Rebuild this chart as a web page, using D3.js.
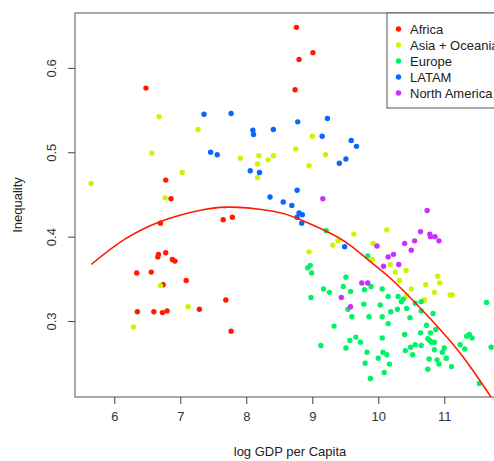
<!DOCTYPE html>
<html>
<head>
<meta charset="utf-8">
<script src="https://cdn.jsdelivr.net/npm/d3@7"></script>
<style>
  body { margin: 0; background: #fff; }
  svg { display: block; font-family: "Liberation Sans", Arial, sans-serif; }
</style>
</head>
<body>
<svg id="chart" width="494" height="461"></svg>
<script>
const regions = ["Africa", "Asia + Oceania", "Europe", "LATAM", "North America"];
const regionColors = ["#ff1a00", "#ccf500", "#00f266", "#0a66ff", "#cc2eff"];

// [log GDP per capita, inequality]
const africa = [[6.48,0.576],[6.78,0.467],[6.86,0.445],[6.70,0.416],[7.65,0.420],[7.79,0.423],[6.67,0.379],[6.66,0.376],
  [6.78,0.381],[6.88,0.373],[6.92,0.371],[6.34,0.357],[6.56,0.358],[7.09,0.348],[6.74,0.343],[7.69,0.325],[7.29,0.314],
  [6.35,0.311],[6.60,0.311],[6.73,0.310],[6.80,0.312],[7.77,0.288],[8.76,0.648],[9.01,0.618],[8.80,0.610],[8.74,0.574]];

const asiaOceania = [[5.65,0.463],[6.68,0.542],[7.27,0.527],[6.57,0.499],[7.91,0.493],[7.03,0.476],[6.77,0.446],[6.70,0.342],
  [7.12,0.317],[6.29,0.293],[9.00,0.519],[8.75,0.504],[9.20,0.497],[8.19,0.496],[8.17,0.486],[8.33,0.491],[8.41,0.496],
  [8.95,0.484],[8.17,0.470],[9.63,0.403],[9.39,0.395],[9.31,0.390],[8.95,0.382],[10.13,0.408],[9.92,0.392],[9.91,0.373],
  [10.18,0.367],[10.42,0.360],[10.26,0.358],[10.32,0.348],[10.90,0.353],[10.93,0.345],[10.72,0.343],[10.50,0.338],
  [10.43,0.330],[10.70,0.325],[10.85,0.334],[11.09,0.331],[11.12,0.331]];

const europe = [[9.21,0.407],[9.84,0.377],[8.97,0.366],[8.93,0.363],[8.99,0.357],[9.51,0.352],[9.17,0.338],[9.47,0.341],
  [9.89,0.341],[10.06,0.338],[8.98,0.328],[9.26,0.334],[9.58,0.335],[9.79,0.337],[9.54,0.314],[9.78,0.320],[10.03,0.319],
  [10.15,0.329],[10.30,0.329],[10.38,0.326],[10.35,0.323],[9.60,0.305],[9.86,0.305],[10.06,0.305],[10.19,0.311],[10.29,0.314],
  [10.15,0.297],[9.33,0.294],[9.57,0.277],[9.66,0.281],[9.73,0.275],[9.13,0.271],[9.51,0.268],[10.06,0.280],[9.83,0.263],
  [10.07,0.263],[10.13,0.260],[10.00,0.256],[9.80,0.250],[10.17,0.249],[10.09,0.239],[9.88,0.232],[10.56,0.321],[10.65,0.323],
  [10.65,0.312],[10.43,0.315],[10.48,0.304],[10.83,0.309],[10.73,0.295],[10.40,0.284],[10.64,0.286],[10.79,0.286],[10.78,0.277],
  [10.81,0.275],[10.85,0.275],[10.87,0.290],[10.75,0.279],[10.56,0.272],[10.49,0.269],[10.65,0.271],[10.41,0.265],[10.52,0.260],
  [10.85,0.266],[10.97,0.263],[11.00,0.268],[10.77,0.255],[10.89,0.254],[11.03,0.256],[10.92,0.249],[11.11,0.246],[10.75,0.243],
  [11.24,0.272],[11.31,0.267],[11.34,0.282],[11.42,0.280],[11.38,0.284],[11.64,0.322],[11.71,0.269],[11.53,0.226]];

const latam = [[7.36,0.545],[7.77,0.546],[7.46,0.500],[7.56,0.497],[9.23,0.540],[8.78,0.536],[8.10,0.526],[8.11,0.521],
  [8.41,0.527],[9.15,0.519],[9.59,0.514],[9.67,0.507],[9.51,0.492],[9.41,0.487],[8.06,0.478],[8.20,0.476],[8.77,0.455],
  [8.36,0.447],[8.56,0.441],[8.69,0.437],[8.80,0.428],[8.85,0.426],[8.77,0.423],[8.84,0.416],[9.49,0.388]];

const northAmerica = [[9.16,0.445],[10.74,0.431],[10.64,0.406],[10.78,0.403],[10.79,0.400],[10.86,0.400],[10.92,0.395],
  [10.55,0.395],[10.40,0.392],[10.50,0.384],[9.98,0.389],[10.23,0.379],[10.15,0.376],[10.31,0.367],[10.08,0.365],
  [9.75,0.345],[9.84,0.345],[9.44,0.328],[9.58,0.317]];

// fitted curve
const fitX = [5.65, 6.16, 6.70, 7.17, 7.73, 8.41, 8.76, 9.22, 9.57, 9.87, 10.25, 10.76, 11.26, 11.75];
const fitY = [0.367, 0.397, 0.418, 0.429, 0.435, 0.430, 0.422, 0.406, 0.390, 0.371, 0.346, 0.305, 0.260, 0.205];

const xTicks = [6, 7, 8, 9, 10, 11];
const yTicks = [0.3, 0.4, 0.5, 0.6];

const svg = d3.select("#chart");
const plotLeft = 75, plotRight = 505, plotTop = 13, plotBottom = 397;
const fontSize = "13px";

const x = d3.scaleLinear().domain([5.405, 11.92]).range([plotLeft, plotRight]);
const y = d3.scaleLinear().domain([0.21, 0.665]).range([plotBottom, plotTop]);

svg.append("rect").attr("width", 494).attr("height", 461).attr("fill", "#fff");

svg.append("clipPath").attr("id", "plot-clip")
  .append("rect")
  .attr("x", plotLeft).attr("y", plotTop)
  .attr("width", plotRight - plotLeft).attr("height", plotBottom - plotTop);

const xAxis = svg.append("g")
  .attr("transform", `translate(0,${plotBottom})`)
  .call(d3.axisBottom(x).tickValues(xTicks).tickSize(7).tickPadding(8).tickFormat(d3.format("d")));

const yAxis = svg.append("g")
  .attr("transform", `translate(${plotLeft},0)`)
  .call(d3.axisLeft(y).tickValues(yTicks).tickSize(7).tickPadding(6).tickFormat(d3.format(".1f")));

[xAxis, yAxis].forEach(a => {
  a.select(".domain").remove();
  a.selectAll("line").attr("stroke", "#444");
  a.selectAll("text").attr("fill", "#333").style("font-size", fontSize);
});

yAxis.selectAll("text")
  .attr("text-anchor", "middle")
  .attr("dy", null)
  .attr("x", null)
  .attr("transform", "translate(-19,0) rotate(-90)");

svg.append("rect")
  .attr("x", plotLeft).attr("y", plotTop)
  .attr("width", plotRight - plotLeft).attr("height", plotBottom - plotTop)
  .attr("fill", "none")
  .attr("stroke", "#555")
  .attr("stroke-width", 1);

svg.append("text")
  .attr("x", (plotLeft + plotRight) / 2)
  .attr("y", 456)
  .attr("text-anchor", "middle")
  .attr("fill", "#222")
  .style("font-size", fontSize)
  .text("log GDP per Capita");

svg.append("text")
  .attr("transform", `translate(22,${(plotTop + plotBottom) / 2}) rotate(-90)`)
  .attr("text-anchor", "middle")
  .attr("fill", "#222")
  .style("font-size", fontSize)
  .text("Inequality");

const plot = svg.append("g").attr("clip-path", "url(#plot-clip)");

const series = [africa, asiaOceania, europe, latam, northAmerica];
series.forEach((pts, i) => {
  plot.append("g").selectAll("circle")
    .data(pts)
    .enter()
    .append("circle")
    .attr("cx", d => x(d[0]))
    .attr("cy", d => y(d[1]))
    .attr("r", 2.7)
    .attr("fill", regionColors[i]);
});

const line = d3.line()
  .x(d => x(d[0]))
  .y(d => y(d[1]))
  .curve(d3.curveNatural);

plot.append("path")
  .datum(fitX.map((v, i) => [v, fitY[i]]))
  .attr("fill", "none")
  .attr("stroke", "#ff1a00")
  .attr("stroke-width", 1.6)
  .attr("d", line);

// legend in the top right corner
const legend = svg.append("g").attr("transform", "translate(387,13)");

legend.append("rect")
  .attr("x", 0).attr("y", 0)
  .attr("width", plotRight - 387).attr("height", 95)
  .attr("fill", "#fff")
  .attr("stroke", "#555");

regions.forEach((name, i) => {
  legend.append("circle")
    .attr("cx", 11.5).attr("cy", 16 + i * 16)
    .attr("r", 2.7)
    .attr("fill", regionColors[i]);
  legend.append("text")
    .attr("x", 23).attr("y", 16 + i * 16)
    .attr("dy", "0.35em")
    .attr("fill", "#222")
    .style("font-size", fontSize)
    .text(name);
});
</script>
</body>
</html>
